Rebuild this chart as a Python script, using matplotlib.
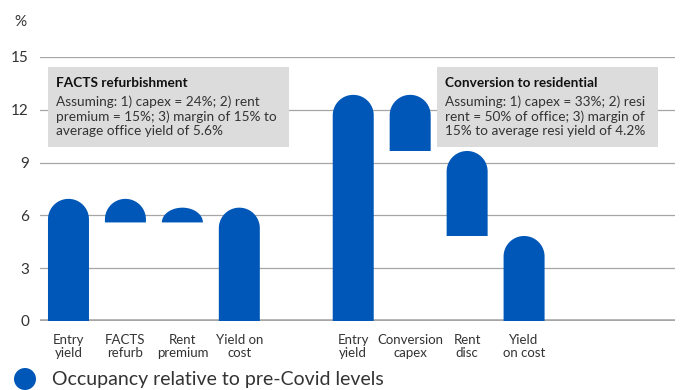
import matplotlib
matplotlib.use("Agg")
import matplotlib.pyplot as plt
from matplotlib.path import Path
from matplotlib.patches import PathPatch
import numpy as np

plt.rcParams['font.family'] = ['Lato', 'DejaVu Sans']

categories = ["Entry\nyield", "FACTS\nrefurb", "Rent\npremium", "Yield on\ncost", "",
              "Entry\nyield", "Conversion\ncapex", "Rent\ndisc", "Yield\non cost"]
bottoms = [0.0, 5.6, 5.6, 0.0, None, 0.0, 9.66, 4.83, 0.0]
tops = [6.94, 6.94, 6.44, 6.44, None, 12.85, 12.85, 9.66, 4.83]
yticks = [0, 3, 6, 9, 12, 15]
legend_label = "Occupancy relative to pre-Covid levels"
box1_title = "FACTS refurbishment"
box1_text = "Assuming: 1) capex = 24%; 2) rent\npremium = 15%; 3) margin of 15% to\naverage office yield of 5.6%"
box2_title = "Conversion to residential"
box2_text = "Assuming: 1) capex = 33%; 2) resi\nrent = 50% of office; 3) margin of\n15% to average resi yield of 4.2%"

BLUE = "#0057b8"
GRID = "#a6a6a6"
TXT = "#333333"

fig = plt.figure(figsize=(6.8, 3.9), dpi=100)
ax = fig.add_axes([40/680, 1-321/390, (675-40)/680, (321-57)/390])
ax.set_xlim(-0.5, 10.65)
ax.set_ylim(0, 15)
for s in ax.spines.values():
    s.set_visible(False)
ax.set_yticks(yticks)
ax.set_yticklabels([str(t) for t in yticks], fontsize=11, color=TXT)
ax.tick_params(axis='y', length=0, pad=8)
for t in yticks[1:]:
    ax.axhline(t, color=GRID, lw=0.9, zorder=0)
ax.axhline(0, color=GRID, lw=2.6, zorder=1)

xs = [i for i, c in enumerate(categories)]
ax.set_xticks([x for x, b in zip(xs, bottoms) if b is not None])
ax.set_xticklabels([c for c, b in zip(categories, bottoms) if b is not None],
                   fontsize=9.5, color=TXT, linespacing=1.15)
ax.tick_params(axis='x', length=0, pad=9)

# aspect: data units per pixel
fig.canvas.draw()
p0 = ax.transData.transform((0, 0))
p1 = ax.transData.transform((1, 1))
px_per_x = p1[0] - p0[0]
px_per_y = p1[1] - p0[1]

w = 0.72
for x, b, t in zip(xs, bottoms, tops):
    if b is None:
        continue
    rx = w / 2
    ry_full = rx * px_per_x / px_per_y
    h = t - b
    ry = min(ry_full, h)
    base = t - ry
    theta = np.linspace(0, np.pi, 60)
    arc_x = x + rx * np.cos(theta)
    arc_y = base + ry * np.sin(theta)
    vx = [x + rx, x + rx] + list(arc_x) + [x - rx, x - rx, x + rx]
    vy = [b, base] + list(arc_y) + [base, b, b]
    verts = list(zip(vx, vy))
    codes = [Path.MOVETO] + [Path.LINETO] * (len(verts) - 2) + [Path.CLOSEPOLY]
    ax.add_patch(PathPatch(Path(verts, codes), facecolor=BLUE, edgecolor='none', zorder=2))

# annotation boxes (figure pixel coordinates)
def box(x0, x1, title, text):
    fig.patches.append(matplotlib.patches.Rectangle((x0/680, 1-147/390), (x1-x0)/680, 80/390,
                       transform=fig.transFigure, facecolor="#dcdcdc", edgecolor='none', zorder=3))
    fig.text((x0+8)/680, 1-83/390, title, fontsize=9.8, fontweight='bold', color="#111111",
             va='center', ha='left', zorder=4)
    fig.text((x0+8)/680, 1-116/390, text, fontsize=9.8, color=TXT, va='center', ha='left',
             linespacing=1.2, zorder=4)

box(48, 289, box1_title, box1_text)
box(437, 658, box2_title, box2_text)

fig.text(14/680, 1-22/390, "%", fontsize=11, color=TXT, va='center', ha='left')

# legend
fig.patches.append(matplotlib.patches.Ellipse((25/680, 1-379/390), 22/680, 22/390,
                   transform=fig.transFigure, facecolor=BLUE, edgecolor='none'))
fig.text(52/680, 1-379/390, legend_label, fontsize=14, color=TXT, va='center', ha='left')

fig.savefig("out.png", dpi=100)
